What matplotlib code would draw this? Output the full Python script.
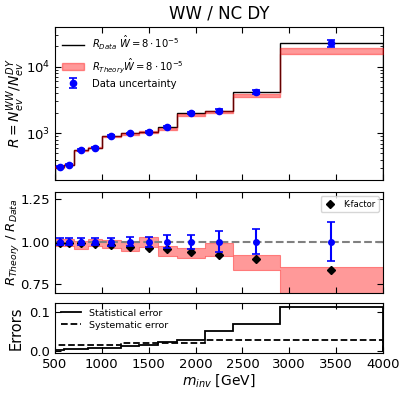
import numpy as np
import matplotlib
matplotlib.use("Agg")
import matplotlib.pyplot as plt

# ---- data ----
bin_edges = [500, 600, 700, 850, 1000, 1200, 1400, 1600, 1800, 2100, 2400, 2900, 4000]
bin_centers = [550, 650, 775, 925, 1100, 1300, 1500, 1700, 1950, 2250, 2650, 3450]
r_data = [315, 340, 562, 610, 912, 1000, 1055, 1225, 1995, 2180, 4200, 22400]
data_rel_err = [0.02, 0.02, 0.02, 0.022, 0.023, 0.027, 0.03, 0.036, 0.04, 0.06, 0.074, 0.115]
theory_ratio_low = [0.975, 0.975, 0.956, 0.975, 0.965, 0.948, 0.971, 0.919, 0.902, 0.915, 0.832, 0.69]
theory_ratio_high = [1.015, 1.015, 1.004, 1.017, 1.010, 1.000, 1.029, 0.976, 0.962, 0.993, 0.923, 0.852]
k_factor = [0.995, 0.995, 0.99, 0.987, 0.98, 0.971, 0.962, 0.955, 0.942, 0.922, 0.897, 0.833]
stat_err = [0.002, 0.004, 0.005, 0.007, 0.008, 0.011, 0.016, 0.022, 0.028, 0.050, 0.069, 0.113]
syst_err = [0.016, 0.016, 0.016, 0.016, 0.016, 0.021, 0.021, 0.021, 0.021, 0.029, 0.029, 0.029]

edges = np.array(bin_edges, dtype=float)
centers = np.array(bin_centers, dtype=float)
rd = np.array(r_data, dtype=float)
rel = np.array(data_rel_err)
tlo = np.array(theory_ratio_low)
thi = np.array(theory_ratio_high)

def stepvals(v):
    v = np.asarray(v, dtype=float)
    return np.append(v, v[-1])

fig = plt.figure(figsize=(4.07, 3.95), dpi=100)
L, W = 0.1351, 0.8059
ax1 = fig.add_axes([L, 0.5443, W, 0.3873])
ax2 = fig.add_axes([L, 0.2582, W, 0.2557])
ax3 = fig.add_axes([L, 0.1063, W, 0.1266])

tick_fs = 9.5
for ax in (ax1, ax2, ax3):
    ax.tick_params(direction='in', which='both', top=True, right=True, labelsize=tick_fs)
    ax.tick_params(which='major', length=4)
    ax.tick_params(which='minor', length=2)
    ax.set_xlim(500, 4000)
    ax.set_xticks([500, 1000, 1500, 2000, 2500, 3000, 3500, 4000])

# ---- top panel ----
ax1.stairs(rd, edges, color='black', lw=1.0, label=r'$R_{Data}\ \hat{W}=8\cdot10^{-5}$', zorder=2)
ax1.fill_between(edges, stepvals(rd * tlo), stepvals(rd * thi), step='post',
                 color='red', alpha=0.4, lw=1.0,
                 label=r'$R_{Theory}\hat{W}=8\cdot10^{-5}$', zorder=3)
ax1.errorbar(centers, rd, yerr=rd * rel, fmt='o', color='blue', ms=4.5, capsize=3,
             elinewidth=1.2, capthick=1.2, label='Data uncertainty', zorder=4)
ax1.set_yscale('log')
ax1.set_ylim(200, 39000)
ax1.tick_params(labelbottom=False)
ax1.set_title('WW / NC DY', fontsize=12)
ax1.set_ylabel(r'$R = N_{ev}^{WW} / N_{ev}^{DY}$', fontsize=10)
ax1.legend(loc='upper left', frameon=False, fontsize=7.2, handlelength=2.2,
           labelspacing=0.4, borderaxespad=0.3)

# ---- ratio panel ----
ax2.fill_between(edges, stepvals(tlo), stepvals(thi), step='post',
                 color='red', alpha=0.4, lw=0.8, zorder=1)
ax2.axhline(1.0, color='gray', ls='--', lw=1.5, zorder=2)
ax2.plot(centers, k_factor, 'D', color='black', ms=4, label='K-factor', zorder=3)
ax2.errorbar(centers, np.ones_like(centers), yerr=rel, fmt='o', color='blue', ms=4,
             capsize=3, elinewidth=1.5, capthick=1.2, zorder=4)
ax2.set_ylim(0.70, 1.29)
ax2.set_yticks([0.75, 1.00, 1.25])
ax2.tick_params(labelbottom=False)
ax2.set_ylabel(r'$R_{Theory}\ /\ R_{Data}$', fontsize=9.5)
ax2.legend(loc='upper right', fontsize=6, handlelength=1.5)

# ---- errors panel ----
ax3.stairs(stat_err, edges, color='black', lw=1.3, label='Statistical error')
ax3.stairs(syst_err, edges, color='black', lw=1.3, ls='--', label='Systematic error')
ax3.set_ylim(-0.006, 0.124)
ax3.set_yticks([0.0, 0.1])
ax3.set_ylabel('Errors', fontsize=10.5)
ax3.set_xlabel(r'$m_{inv}$ [GeV]', fontsize=10, labelpad=1)
ax3.legend(loc='upper left', frameon=False, fontsize=6.8, handlelength=2.2,
           borderaxespad=0.2, labelspacing=0.3)

ax1.yaxis.set_label_coords(-0.085, 0.5)
ax2.yaxis.set_label_coords(-0.103, 0.5)
ax3.yaxis.set_label_coords(-0.097, 0.5)

fig.savefig('out.png', dpi=100)
